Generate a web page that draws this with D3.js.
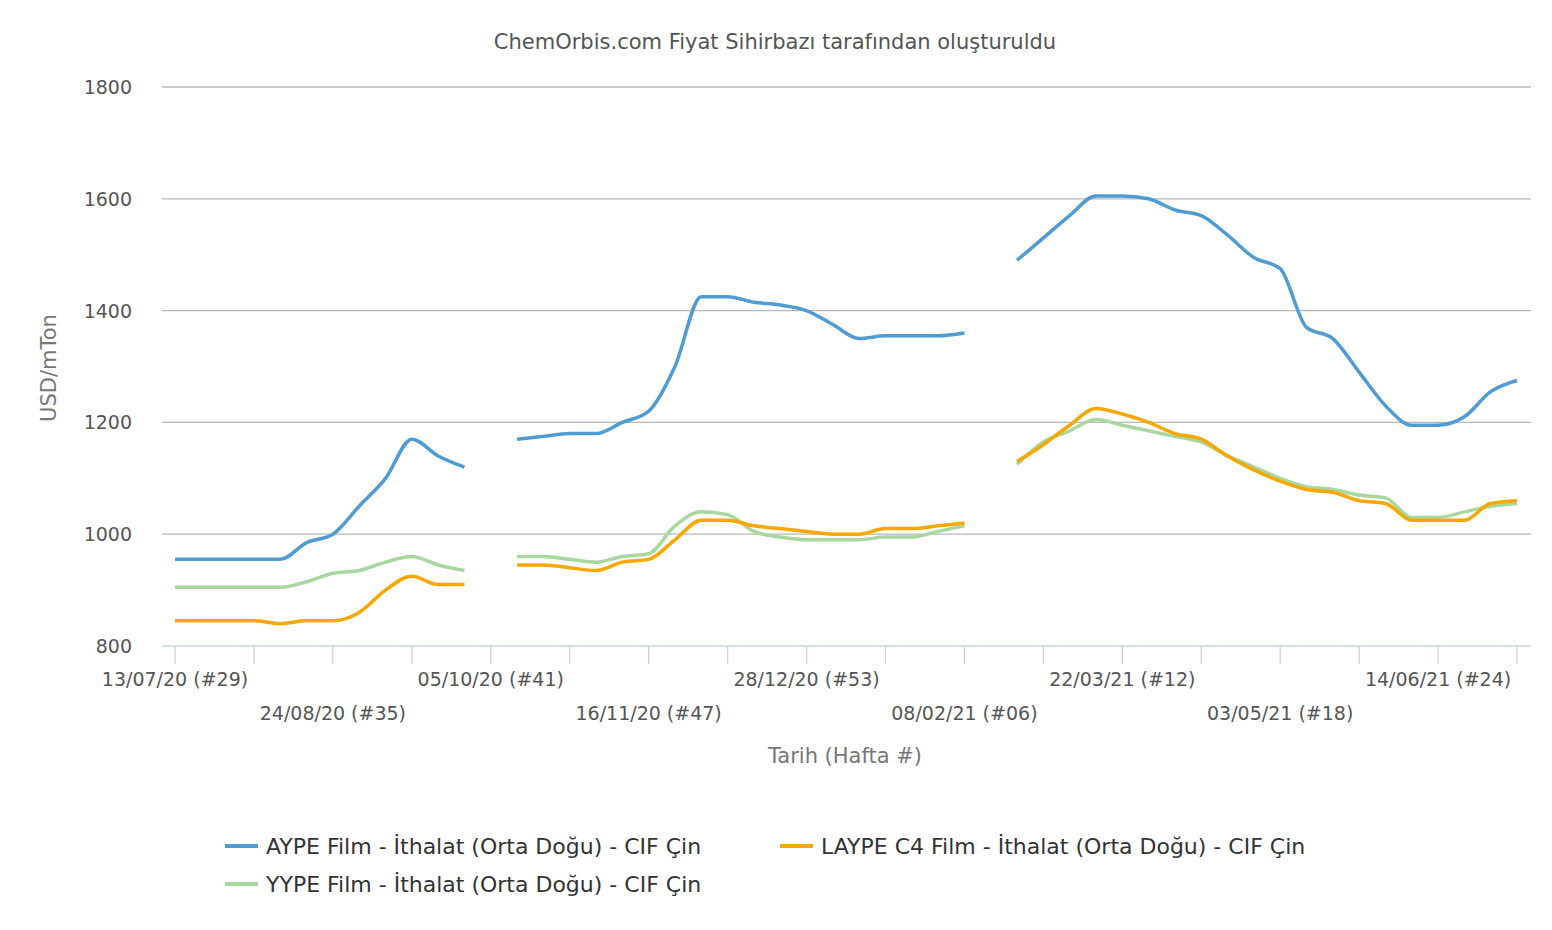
<!DOCTYPE html>
<html><head><meta charset="utf-8">
<script src="https://cdn.jsdelivr.net/npm/d3@7"></script>
<style>body{margin:0;background:#fff;font-family:"DejaVu Sans",sans-serif}</style>
</head><body><svg id="c" width="1552" height="930"></svg>
<script>
const weeks = d3.range(0,52);
const tickLabels = ["13/07/20 (#29)","24/08/20 (#35)","05/10/20 (#41)","16/11/20 (#47)","28/12/20 (#53)","08/02/21 (#06)","22/03/21 (#12)","03/05/21 (#18)","14/06/21 (#24)"];
const yTicks = [800,1000,1200,1400,1600,1800];
const ayp = [955,955,955,955,955,985,1000,1050,1100,1170,1140,1120,null,
 1170,1175,1180,1180,1200,1220,1300,1425,1425,1415,1410,1400,1375,1350,1355,1355,1355,1360,null,
 1490,1530,1570,1605,1605,1600,1580,1570,1535,1495,1475,1370,1350,1290,1230,1195,1195,1210,1255,1275];
const laype = [845,845,845,845,840,845,845,860,900,925,910,910,null,
 945,945,940,935,950,955,990,1025,1025,1015,1010,1005,1000,1000,1010,1010,1015,1020,null,
 1130,1160,1195,1225,1215,1200,1180,1170,1140,1115,1095,1080,1075,1060,1055,1025,1025,1025,1055,1060];
const yype = [905,905,905,905,905,915,930,935,950,960,945,935,null,
 960,960,955,950,960,965,1015,1040,1035,1005,995,990,990,990,995,995,1005,1015,null,
 1125,1165,1185,1205,1195,1185,1175,1165,1140,1120,1100,1085,1080,1070,1065,1030,1030,1040,1050,1055];
const series = [
 {name:"YYPE Film - İthalat (Orta Doğu) - CIF Çin", vals:yype, color:"#a8d8a0"},
 {name:"LAYPE C4 Film - İthalat (Orta Doğu) - CIF Çin", vals:laype, color:"#f7a800"},
 {name:"AYPE Film - İthalat (Orta Doğu) - CIF Çin", vals:ayp, color:"#4f9bd3"}];

const svg = d3.select("#c");
const x = d3.scaleLinear().domain([0,51]).range([175,1517]);
const y = d3.scaleLinear().domain([800,1800]).range([646,87]);
const L=162,R=1531;
svg.append("text").attr("x",775).attr("y",49).attr("text-anchor","middle").attr("fill","#555").attr("font-size",21).text("ChemOrbis.com Fiyat Sihirbazı tarafından oluşturuldu");
yTicks.forEach(t=>{
 svg.append("line").attr("x1",L).attr("x2",R).attr("y1",y(t)).attr("y2",y(t)).attr("stroke",t==800?"#c8d3de":"#b8b8b8").attr("stroke-width",1.3);
 svg.append("text").attr("x",132).attr("y",y(t)+7).attr("text-anchor","end").attr("fill","#555").attr("font-size",19).text(t);
});
for(let w=0;w<=51;w+=3){
 svg.append("line").attr("x1",x(w)).attr("x2",x(w)).attr("y1",646).attr("y2",664).attr("stroke","#c8d3de").attr("stroke-width",1.3);
}
tickLabels.forEach((t,i)=>{
 svg.append("text").attr("x",x(i*6)).attr("y",i%2?720:686).attr("text-anchor","middle").attr("fill","#555").attr("font-size",19).text(t);
});
svg.append("text").attr("x",845).attr("y",763).attr("text-anchor","middle").attr("fill","#777").attr("font-size",21).text("Tarih (Hafta #)");
svg.append("text").attr("transform","translate(56,368) rotate(-90)").attr("text-anchor","middle").attr("fill","#777").attr("font-size",21).text("USD/mTon");
const line = d3.line().defined(d=>d[1]!=null).x(d=>x(d[0])).y(d=>y(d[1])).curve(d3.curveMonotoneX);
series.forEach(s=>{
 svg.append("path").attr("d",line(weeks.map(w=>[w,s.vals[w]]))).attr("fill","none").attr("stroke",s.color).attr("stroke-width",3.5);
});
const leg=[[2,225,846],[1,780,846],[0,225,884]];
leg.forEach(([i,lx,ly])=>{
 svg.append("line").attr("x1",lx).attr("x2",lx+33).attr("y1",ly).attr("y2",ly).attr("stroke",series[i].color).attr("stroke-width",4);
 svg.append("text").attr("x",lx+41).attr("y",ly+8).attr("fill","#333").attr("font-size",22).text(series[i].name);
});
</script></body></html>
